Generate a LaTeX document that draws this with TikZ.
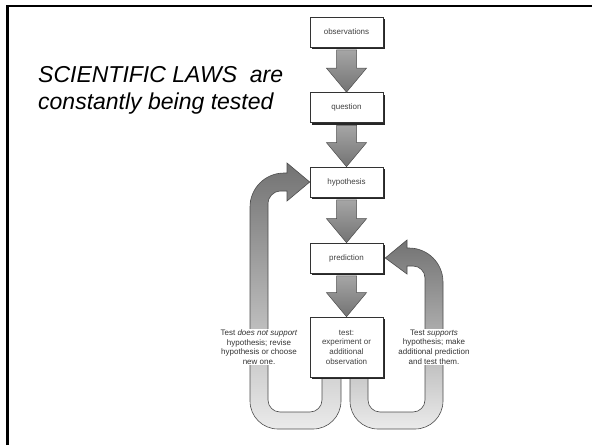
\documentclass[tikz,border=0pt]{standalone}
\usepackage{fontspec}
\setmainfont{Liberation Sans}
\usetikzlibrary{calc,shadows,backgrounds}
\tikzset{
  stepbox/.style={draw=black!80, line width=0.6pt, fill=white, minimum width=73pt,
    minimum height=30pt, inner sep=1pt, font=\fontsize{8}{9.7}\selectfont,
    text=black!75, align=center,
    drop shadow={shadow xshift=2pt, shadow yshift=-2pt, opacity=1, fill=black!85}},
  arrowfill/.style={draw=black!70, line width=0.5pt, top color=black!35, bottom color=black!55},
  bandfill/.style={draw=black!70, line width=0.6pt, top color=black!55, middle color=black!32, bottom color=black!8},
  lbl/.style={fill=white, inner sep=1pt, align=center, text=black!80,
    font=\fontsize{8}{9.7}\selectfont},
  titletext/.style={anchor=base west, inner sep=0pt, font=\fontsize{23}{27}\selectfont\itshape}
}
\newcommand\vertarrow[2]{%
  \path[arrowfill] ($(#1.south)+(-10,2.5)$) -- ($(#2.north)+(-10,-24)$) -- ($(#2.north)+(-20,-24)$)
    -- (#2.north) -- ($(#2.north)+(20,-24)$) -- ($(#2.north)+(10,-24)$)
    -- ($(#1.south)+(10,2.5)$) -- cycle;}
\begin{document}
\begin{tikzpicture}[x=1pt,y=-1pt]
\useasboundingbox (0,0) rectangle (592,445);
% frame
\draw[line width=2.6pt] (7.5,445) -- (7.5,6) -- (592,6);
% title
\node[titletext] (title1) at (38,82) {SCIENTIFIC LAWS\ \ are};
\node[titletext] (title2) at (38,109) {constantly being tested};
% boxes
\node[stepbox] (obs) at (346.5,32) {observations};
\node[stepbox] (q) at (346.5,107.5) {question};
\node[stepbox] (hyp) at (346.5,182) {hypothesis};
\node[stepbox] (pred) at (346.5,258) {prediction};
\node[stepbox, minimum height=60pt] (test) at (346.5,347) {test:\\experiment or\\additional\\observation};
% vertical arrows
\vertarrow{obs}{q}
\vertarrow{q}{hyp}
\vertarrow{hyp}{pred}
\vertarrow{pred}{test}
% feedback bands
\begin{pgfonlayer}{background}
\path[bandfill] (322,360) -- (322,400) .. controls (322,406.6) and (316.6,412) .. (310,412)
  -- (280,412) .. controls (273.4,412) and (268,406.6) .. (268,400)
  -- (268,203) .. controls (268,197.6) and (273.4,191) .. (280,191)
  -- (287,191) -- (287,201) -- (hyp.west) -- (287,163) -- (287,173)
  -- (284,173) .. controls (265.2,173) and (250,188.2) .. (250,207)
  -- (250,401) .. controls (250,416.5) and (262.5,429) .. (278,429)
  -- (313,429) .. controls (328.5,429) and (341,416.5) .. (341,401)
  -- (341,360) -- cycle;
\path[bandfill] (368,360) -- (368,400) .. controls (368,406.6) and (373.4,412) .. (380,412)
  -- (413,412) .. controls (419.6,412) and (425,406.6) .. (425,400)
  -- (425,278) .. controls (425,271.4) and (419.6,266) .. (413,266)
  -- (407,266) -- (407,274) -- ($(pred.east)+(2,0)$) -- (407,240) -- (407,248)
  -- (409,248) .. controls (427.8,248) and (443,263.2) .. (443,282)
  -- (443,401) .. controls (443,416.5) and (430.5,429) .. (415,429)
  -- (378,429) .. controls (362.5,429) and (350,416.5) .. (350,401)
  -- (350,360) -- cycle;
\end{pgfonlayer}
% labels
\node[lbl] (fail) at (259,347) {Test \textit{does not support}\\hypothesis; revise\\hypothesis or choose\\new one.};
\node[lbl] (pass) at (434,347) {Test \textit{supports}\\hypothesis; make\\additional prediction\\and test them.};
\end{tikzpicture}
\end{document}
